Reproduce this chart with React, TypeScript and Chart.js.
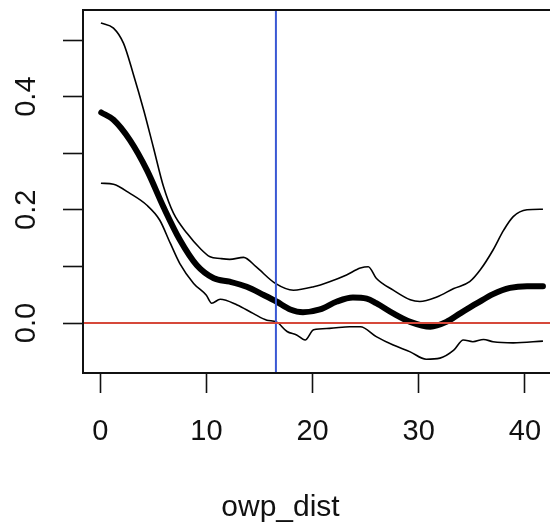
import React, { useEffect, useRef } from 'react';
import { Chart, registerables } from 'chart.js';
Chart.register(...registerables);

// Fitted smooth
const fitX = [0.1, 1.25, 2.8, 4.4, 5.96, 7.5, 9.1, 10.7, 12.2, 13.8, 15.4, 16.6, 17.9, 19.1, 20.7, 22.3, 23.8, 25.1, 26.0, 27.6, 29.2, 31.1, 32.6, 33.9, 35.5, 37.0, 38.6, 40.2, 41.7];
const fitY = [0.372, 0.359, 0.323, 0.270, 0.205, 0.147, 0.102, 0.079, 0.073, 0.064, 0.0495, 0.038, 0.024, 0.019, 0.024, 0.038, 0.045, 0.043, 0.035, 0.017, 0.002, -0.0065, 0.002, 0.017, 0.035, 0.051, 0.062, 0.065, 0.065];

// Upper confidence band
const upperX = [0.07, 1.25, 2.2, 3.1, 4.1, 5.0, 5.96, 6.9, 8.2, 9.4, 10.35, 11.3, 12.2, 13.5, 14.7, 16.5, 18.2, 20.1, 21.6, 23.2, 24.5, 25.25, 26.0, 27.6, 29.2, 30.1, 31.7, 33.3, 34.8, 35.8, 37.0, 38.0, 38.9, 40.2, 41.7];
const upperY = [0.530, 0.521, 0.494, 0.441, 0.376, 0.311, 0.241, 0.194, 0.158, 0.132, 0.117, 0.114, 0.1125, 0.116, 0.099, 0.070, 0.058, 0.064, 0.073, 0.085, 0.097, 0.0995, 0.079, 0.058, 0.041, 0.038, 0.046, 0.061, 0.073, 0.094, 0.129, 0.164, 0.188, 0.200, 0.201];

// Lower confidence band
const lowerX = [0.07, 1.25, 2.8, 4.4, 5.6, 6.6, 7.5, 8.8, 10.0, 10.5, 11.3, 12.9, 14.4, 15.7, 16.6, 17.6, 18.5, 19.3, 20.1, 21.6, 23.5, 24.5, 26.0, 27.6, 29.2, 30.7, 32.0, 33.3, 34.2, 35.1, 36.1, 37.0, 38.9, 41.7];
const lowerY = [0.247, 0.245, 0.229, 0.208, 0.182, 0.141, 0.105, 0.070, 0.049, 0.035, 0.042, 0.032, 0.017, 0.005, 0.002, -0.015, -0.021, -0.030, -0.012, -0.0095, -0.0065, -0.0065, -0.024, -0.039, -0.051, -0.064, -0.062, -0.048, -0.030, -0.033, -0.029, -0.033, -0.035, -0.032];

// Reference lines
const hLineY = 0;
const vLineX = 16.55;

// Axes
const X_MIN = -1.62;
const X_MAX = 43.4;
const Y_MIN = -0.0883;
const Y_MAX = 0.553;
const xTickValues = [0, 10, 20, 30, 40];
const xTickLabels = ['0', '10', '20', '30', '40'];
const yTickValues = [0, 0.1, 0.2, 0.3, 0.4, 0.5];
const yTickLabels = ['0.0', '', '0.2', '', '0.4', ''];
const xTitle = 'owp_dist';

const zip = (xs: number[], ys: number[]) => xs.map((x, i) => ({ x, y: ys[i] }));

const FONT = '"Liberation Sans", Arial, Helvetica, sans-serif';
const TXT = '#111';

const boxPlugin = {
  id: 'boxPlugin',
  afterDraw(chart: any) {
    const { ctx, chartArea } = chart;
    ctx.save();
    ctx.strokeStyle = '#111';
    ctx.lineWidth = 2;
    ctx.strokeRect(chartArea.left, chartArea.top, chartArea.right - chartArea.left, chartArea.bottom - chartArea.top);
    ctx.restore();
  },
};

export default function App() {
  const ref = useRef<HTMLCanvasElement>(null);
  useEffect(() => {
    const canvas = ref.current!;
    const chart = new Chart(canvas, {
      type: 'line',
      data: {
        datasets: [
          {
            data: [{ x: X_MIN, y: hLineY }, { x: X_MAX, y: hLineY }],
            borderColor: 'rgb(214,72,58)',
            borderWidth: 2,
            pointRadius: 0,
          },
          {
            data: [{ x: vLineX, y: Y_MIN }, { x: vLineX, y: Y_MAX }],
            borderColor: 'rgb(58,88,212)',
            borderWidth: 2,
            pointRadius: 0,
          },
          {
            data: zip(fitX, fitY),
            borderColor: '#000',
            borderWidth: 6,
            pointRadius: 0,
            cubicInterpolationMode: 'monotone',
            borderCapStyle: 'round',
          },
          {
            data: zip(upperX, upperY),
            borderColor: '#000',
            borderWidth: 1.6,
            pointRadius: 0,
            cubicInterpolationMode: 'monotone',
          },
          {
            data: zip(lowerX, lowerY),
            borderColor: '#000',
            borderWidth: 1.6,
            pointRadius: 0,
            cubicInterpolationMode: 'monotone',
          },
        ],
      },
      options: {
        responsive: false,
        maintainAspectRatio: false,
        animation: false,
        devicePixelRatio: 1,
        layout: { padding: { top: 10, left: 0, right: 39, bottom: 0 } },
        plugins: {
          legend: { display: false },
          tooltip: { enabled: false },
          title: {
            display: true,
            text: xTitle,
            position: 'bottom',
            align: 'center',
            color: TXT,
            padding: { top: 0, bottom: 0 },
            font: { family: FONT, size: 30, weight: 'normal', lineHeight: 1.2 },
          },
        },
        scales: {
          x: {
            type: 'linear',
            min: X_MIN,
            max: X_MAX,
            afterBuildTicks: (scale: any) => {
              scale.ticks = xTickValues.map((v) => ({ value: v }));
            },
            afterFit: (scale: any) => {
              scale.height = 117;
              scale.paddingLeft = 0;
              scale.paddingRight = 0;
              scale.paddingTop = 0;
              scale.paddingBottom = 0;
            },
            grid: {
              drawOnChartArea: false,
              drawTicks: true,
              tickLength: 20,
              tickWidth: 1.6,
              tickColor: '#111',
            },
            border: { display: true, color: '#111', width: 2 },
            ticks: {
              autoSkip: false,
              maxRotation: 0,
              minRotation: 0,
              padding: 22,
              color: TXT,
              font: { family: FONT, size: 29 },
              callback: (_v: any, i: number) => xTickLabels[i],
            },
          },
          y: {
            type: 'linear',
            min: Y_MIN,
            max: Y_MAX,
            afterBuildTicks: (scale: any) => {
              scale.ticks = yTickValues.map((v) => ({ value: v }));
            },
            afterFit: (scale: any) => {
              scale.width = 83;
              scale.paddingLeft = 0;
              scale.paddingRight = 0;
              scale.paddingTop = 0;
              scale.paddingBottom = 0;
            },
            grid: {
              drawOnChartArea: false,
              drawTicks: true,
              tickLength: 20,
              tickWidth: 1.6,
              tickColor: '#111',
            },
            border: { display: true, color: '#111', width: 2 },
            ticks: {
              autoSkip: false,
              minRotation: 90,
              maxRotation: 90,
              crossAlign: 'center',
              padding: 16,
              color: TXT,
              font: { family: FONT, size: 29 },
              callback: (_v: any, i: number) => yTickLabels[i],
            },
          },
        },
      },
      plugins: [boxPlugin],
    } as any);
    return () => chart.destroy();
  }, []);
  return (
    <div style={{ position: 'fixed', left: 0, top: 0, width: 550, height: 526, overflow: 'hidden', background: '#fff' }}>
      <canvas ref={ref} width={600} height={526} style={{ display: 'block' }} />
    </div>
  );
}
